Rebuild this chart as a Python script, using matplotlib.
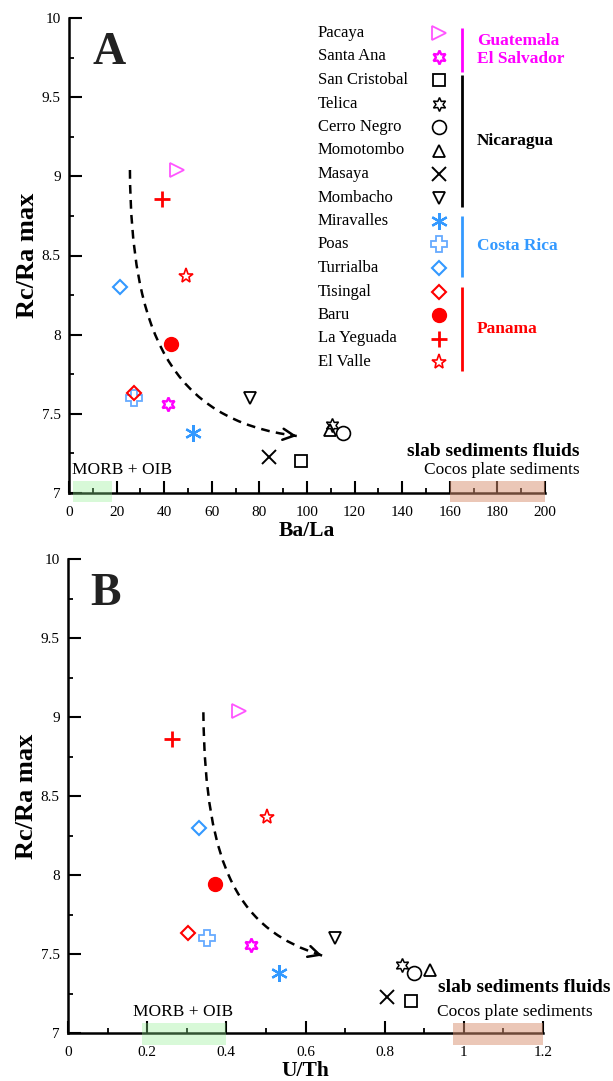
import numpy as np
import matplotlib
matplotlib.use('Agg')
import matplotlib.pyplot as plt
from matplotlib.path import Path
from matplotlib.patches import PathPatch, Rectangle
from matplotlib.ticker import MultipleLocator, FormatStrFormatter

plt.rcParams['font.family'] = ['Liberation Serif', 'DejaVu Serif']

# volcano data
names = ['Pacaya', 'Santa Ana', 'San Cristobal', 'Telica', 'Cerro Negro',
         'Momotombo', 'Masaya', 'Mombacho', 'Miravalles', 'Poas',
         'Turrialba', 'Tisingal', 'Baru', 'La Yeguada', 'El Valle']
rc_ra = [9.04, 7.56, 7.20, 7.43, 7.38, 7.40, 7.23, 7.60, 7.38, 7.60,
         8.30, 7.63, 7.94, 8.86, 8.37]
ba_la = [45.4, 41.8, 97.3, 110.5, 115.0, 109.7, 84.0, 76.2, 51.9, 27.3,
         21.5, 27.3, 43.0, 39.0, 49.2]
u_th = [0.431, 0.462, 0.866, 0.843, 0.875, 0.915, 0.806, 0.674, 0.533, 0.351,
        0.332, 0.302, 0.371, 0.262, 0.503]

# countries and how many volcanoes belong to each (in order)
groups = ['Guatemala\nEl Salvador', 'Nicaragua', 'Costa Rica', 'Panama']
group_sizes = [2, 6, 3, 4]

MAG = '#FF00FF'
BLUE = '#3399FF'
RED = '#FF0000'
group_colors = [MAG, 'black', BLUE, RED]

styles = {
    'Pacaya':        dict(marker='>', ms=10, mec='#FF55FF', mfc='none', mew=1.3),
    'Santa Ana':     dict(marker=(6, 1, 0), ms=10, mec=MAG, mfc='none', mew=1.7),
    'San Cristobal': dict(marker='s', ms=9, mec='black', mfc='none', mew=1.3),
    'Telica':        dict(marker=(6, 1, 0), ms=10, mec='black', mfc='none', mew=1.1),
    'Cerro Negro':   dict(marker='o', ms=10, mec='black', mfc='none', mew=1.2),
    'Momotombo':     dict(marker='^', ms=9, mec='black', mfc='none', mew=1.3),
    'Masaya':        dict(marker='x', ms=10, mec='black', mew=1.4),
    'Mombacho':      dict(marker='v', ms=9, mec='black', mfc='none', mew=1.3),
    'Miravalles':    dict(marker=(6, 2, 0), ms=12, mec=BLUE, mew=1.6),
    'Poas':          dict(marker='P', ms=11, mec='#66AAFF', mfc='none', mew=1.3),
    'Turrialba':     dict(marker='D', ms=7.5, mec=BLUE, mfc='none', mew=1.5),
    'Tisingal':      dict(marker='D', ms=7.5, mec=RED, mfc='none', mew=1.5),
    'Baru':          dict(marker='o', ms=10, mec=RED, mfc=RED, mew=1),
    'La Yeguada':    dict(marker='+', ms=12, mec=RED, mew=2.0),
    'El Valle':      dict(marker='*', ms=11, mec=RED, mfc='none', mew=1.2),
}

fig = plt.figure(figsize=(6.13, 10.81), dpi=100)
axA = fig.add_axes([69/613, (1081-493)/1081, 476/613, 475/1081])
axB = fig.add_axes([68/613, (1081-1033)/1081, 475/613, 474/1081])


def style_axis(ax, xmax, xmaj, xmin, xlabel):
    ax.set_xlim(0, xmax)
    ax.set_ylim(7, 10)
    for s in ['top', 'right']:
        ax.spines[s].set_visible(False)
    for s in ['left', 'bottom']:
        ax.spines[s].set_linewidth(1.8)
    ax.xaxis.set_major_locator(MultipleLocator(xmaj))
    ax.xaxis.set_minor_locator(MultipleLocator(xmin))
    ax.yaxis.set_major_locator(MultipleLocator(0.5))
    ax.yaxis.set_minor_locator(MultipleLocator(0.25))
    ax.xaxis.set_major_formatter(FormatStrFormatter('%g'))
    ax.yaxis.set_major_formatter(FormatStrFormatter('%g'))
    ax.tick_params(which='major', direction='in', length=9, width=1.5,
                   labelsize=11)
    ax.tick_params(axis='x', which='major', pad=9.5)
    ax.tick_params(axis='y', which='major', pad=6)
    ax.tick_params(which='minor', direction='in', length=3.5, width=1.3)
    ax.set_xlabel(xlabel, fontsize=15.5, fontweight='bold', va='center')
    ax.xaxis.set_label_coords(0.5, -0.08)
    ax.set_ylabel('Rc/Ra max', fontsize=19, fontweight='bold', va='center')
    ax.yaxis.set_label_coords(-0.088, 0.5)


def dashed_arrow(ax, p0, p1, p2, p3):
    path = Path([p0, p1, p2, p3], [Path.MOVETO, Path.CURVE4, Path.CURVE4, Path.CURVE4])
    ax.add_patch(PathPatch(path, fill=False, lw=1.8, ls=(0, (3.5, 2.5)), color='black'))
    back = (p3[0] - 0.04*(p3[0]-p2[0]), p3[1] - 0.04*(p3[1]-p2[1]))
    ax.annotate('', xy=p3, xytext=back,
                arrowprops=dict(arrowstyle='->', lw=1.8, color='black',
                                mutation_scale=20, shrinkA=0, shrinkB=0))


style_axis(axA, 200, 20, 10, 'Ba/La')
style_axis(axB, 1.2, 0.2, 0.1, 'U/Th')

for ax, xs in [(axA, ba_la), (axB, u_th)]:
    for n, x, y in zip(names, xs, rc_ra):
        ax.plot(x, y, ls='none', clip_on=False, zorder=4, **styles[n])

# trend arrows
dashed_arrow(axA, (25.6, 9.04), (26.05, 8.03), (42.4, 7.46), (95.7, 7.36))
dashed_arrow(axB, (0.342, 9.03), (0.346, 8.03), (0.435, 7.65), (0.642, 7.49))

# source end-member boxes
axA.add_patch(Rectangle((1.7, 6.943), 16.3, 0.133, fc='#90EE90', alpha=0.35,
                        ec='none', clip_on=False, zorder=5))
axA.add_patch(Rectangle((160, 6.943), 40, 0.133, fc='#D99070', alpha=0.5,
                        ec='none', clip_on=False, zorder=5))
axB.add_patch(Rectangle((0.187, 6.925), 0.213, 0.14, fc='#90EE90', alpha=0.35,
                        ec='none', clip_on=False, zorder=5))
axB.add_patch(Rectangle((0.973, 6.925), 0.227, 0.14, fc='#D99070', alpha=0.5,
                        ec='none', clip_on=False, zorder=5))

axA.text(1.3, 7.146, 'MORB + OIB', fontsize=12.5, va='center', ha='left')
axA.text(214.7, 7.26, 'slab sediments fluids', fontsize=14, fontweight='bold',
         va='center', ha='right', clip_on=False)
axA.text(214.7, 7.146, 'Cocos plate sediments', fontsize=12.5, va='center',
         ha='right', clip_on=False)
axB.text(0.164, 7.133, 'MORB + OIB', fontsize=12.5, va='center', ha='left')
axB.text(0.935, 7.29, 'slab sediments fluids', fontsize=14, fontweight='bold',
         va='center', ha='left', clip_on=False)
axB.text(0.932, 7.133, 'Cocos plate sediments', fontsize=12.5, va='center',
         ha='left', clip_on=False)

# panel letters
axA.text(0.05, 0.97, 'A', transform=axA.transAxes, fontsize=33,
         fontweight='bold', color='#222222', va='top', ha='left')
axB.text(0.046, 0.97, 'B', transform=axB.transAxes, fontsize=33,
         fontweight='bold', color='#222222', va='top', ha='left')

# legend (axes fraction of panel A)
def fy(py):
    return (493 - py) / 475

row_py = [33 + 23.5*i for i in range(len(names))]
for n, py in zip(names, row_py):
    axA.text(0.523, fy(py), n, transform=axA.transAxes, fontsize=12,
             va='center', ha='left')
    axA.plot(0.777, fy(py), transform=axA.transAxes, clip_on=False,
             ls='none', **styles[n])

start = 0
for g, size, col in zip(groups, group_sizes, group_colors):
    first, last = row_py[start], row_py[start + size - 1]
    top, bot = first - 5, last + 9
    if start == 0:
        bot = last + 15
    axA.plot([0.826, 0.826], [fy(top), fy(bot)], transform=axA.transAxes,
             color=col, lw=2, clip_on=False, solid_capstyle='butt')
    axA.text(0.857, fy((top + bot) / 2), g, transform=axA.transAxes,
             fontsize=12.5, fontweight='bold', color=col, va='center',
             ha='left', linespacing=1.15)
    start += size

fig.savefig('out.png', dpi=100)
